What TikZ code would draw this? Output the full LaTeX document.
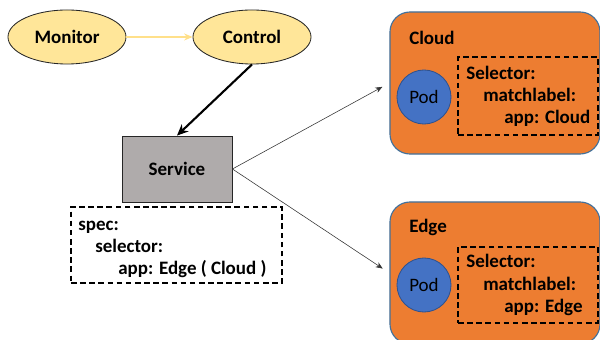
\documentclass[tikz,border=0pt]{standalone}
\usepackage{fontspec}
\setmainfont{Carlito}
\usetikzlibrary{arrows.meta, shapes.geometric, positioning}
\definecolor{goldfill}{HTML}{FFE699}
\definecolor{goldline}{HTML}{FFE08A}
\definecolor{svcgray}{HTML}{AFABAB}
\definecolor{siteorange}{HTML}{ED7D31}
\definecolor{siteline}{HTML}{41719C}
\definecolor{podblue}{HTML}{4472C4}
\definecolor{podline}{HTML}{2F528F}

\begin{document}
\begin{tikzpicture}[x=0.025cm, y=-0.025cm,
  state/.style={ellipse, draw=black!85, fill=goldfill, line width=0.6pt,
    minimum width=2.95cm, minimum height=1.35cm, font=\fontsize{13.5}{15}\selectfont\bfseries},
  svcbox/.style={draw=black!85, fill=svcgray, line width=0.6pt,
    minimum width=2.75cm, minimum height=1.65cm, font=\fontsize{13.5}{15}\selectfont\bfseries},
  dashbox/.style={draw=black, dash pattern=on 4pt off 2.5pt, line width=1.1pt, inner sep=0pt},
  site/.style={draw=siteline, fill=siteorange, line width=0.8pt, rounded corners=0.5cm,
    minimum width=5.25cm, minimum height=3.55cm},
  pod/.style={circle, draw=podline, fill=podblue, line width=0.6pt,
    minimum size=1.35cm, inner sep=0pt, font=\fontsize{13.5}{15}\selectfont},
  code/.style={anchor=base west, inner sep=0pt, font=\fontsize{13.5}{15}\selectfont\bfseries},
  thinarrow/.style={-{Stealth[length=5pt, width=4pt]}, draw=black!80, line width=0.4pt, shorten >=0.2cm},
]
\clip (0,0) rectangle (600,340);

% control loop
\node[state] (monitor) at (67,37) {Monitor};
\node[state] (control) at (252,37) {Control};
\draw[-{Stealth[length=6pt, width=5pt]}, draw=goldline, line width=1.4pt] (monitor) -- (control);

% service + its spec
\node[svcbox] (service) at (177,169) {Service};
\draw[-{Stealth[length=8pt, width=7pt]}, line width=1.5pt] (control.south) -- (service.north);

\node[dashbox, minimum width=5.275cm, minimum height=1.9cm] (spec) at (176.5,245) {};
\node[code] (specA) at (78,231) {spec:};
\node[code] (specB) at (95,253) {selector:};
\node[code] (specC) at (118,275) {app: Edge ( Cloud )};

% Cloud site
\node[site] (cloud) at (495,83) {};
\node[code] (cloudlbl) at (409,45) {Cloud};
\node[pod] (cloudpod) at (424,97) {Pod};
\node[dashbox, minimum width=3.5cm, minimum height=1.95cm] (cloudsel) at (528,96) {};
\node[code] (cloudA) at (466,80) {Selector:};
\node[code] (cloudB) at (483,102) {matchlabel:};
\node[code] (cloudC) at (504,124) {app: Cloud};

% Edge site
\node[site] (edge) at (495,273) {};
\node[code] (edgelbl) at (409,233) {Edge};
\node[pod] (edgepod) at (424,285) {Pod};
\node[dashbox, minimum width=3.5cm, minimum height=1.9cm] (edgesel) at (528,285) {};
\node[code] (edgeA) at (466,268) {Selector:};
\node[code] (edgeB) at (483,291) {matchlabel:};
\node[code] (edgeC) at (504,313) {app: Edge};

\draw[thinarrow] (service.east) -- (cloud.west);
\draw[thinarrow] (service.east) -- (edge.west);

\end{tikzpicture}
\end{document}
